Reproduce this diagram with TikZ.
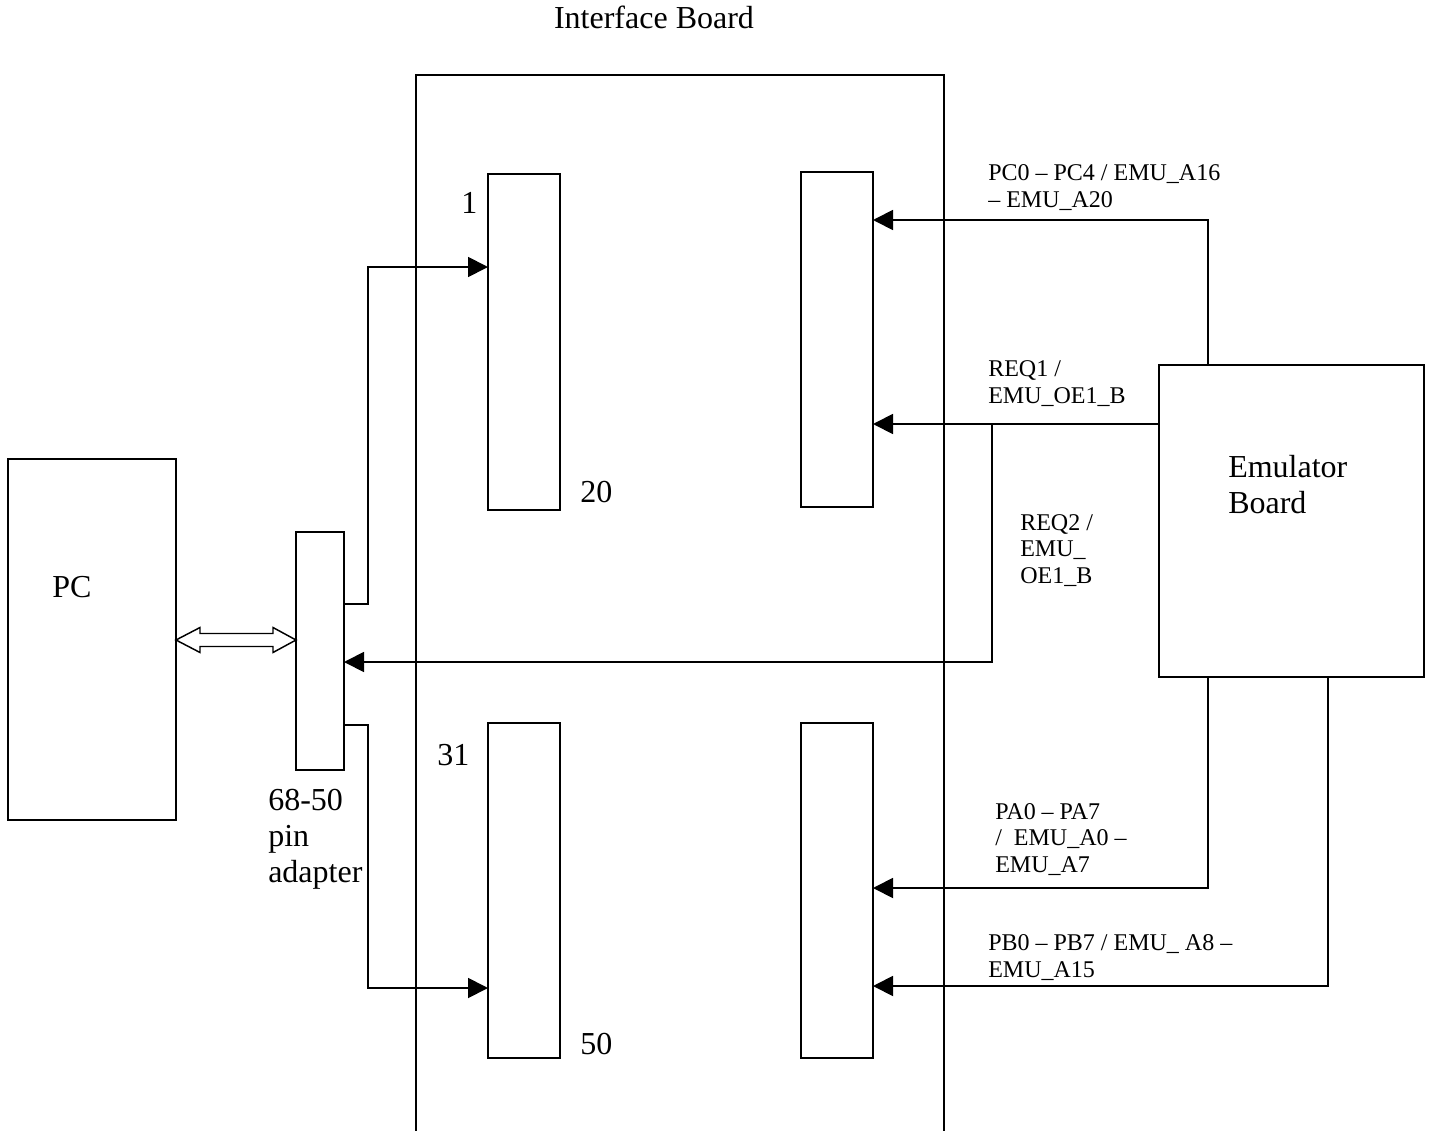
\documentclass[tikz,border=0pt]{standalone}
\usepackage{fontspec}
\setmainfont{Liberation Serif}
\usetikzlibrary{arrows.meta,calc}
\begin{document}
\begin{tikzpicture}[x=0.75pt,y=-0.75pt,
  box/.style={draw,line width=1.4pt,inner sep=0pt,outer sep=0pt},
  conn/.style={line width=1.4pt},
  arr/.style={line width=1.4pt,-{Triangle[length=15pt,width=15pt]}},
  big/.style={font=\fontsize{24pt}{27pt}\selectfont,inner sep=0pt,align=left},
  small/.style={font=\fontsize{18pt}{19.8pt}\selectfont,inner sep=0pt,align=left}]
\useasboundingbox (0,0) rectangle (1429,1131);
% boxes
\node[box,minimum width=396pt,minimum height=798.75pt] (board) at (680,607.5) {};
\node[box,minimum width=54pt,minimum height=252pt] (c1) at (524,342) {};
\node[box,minimum width=54pt,minimum height=251.25pt] (c2) at (524,890.5) {};
\node[box,minimum width=54pt,minimum height=251.25pt] (c3) at (837,339.5) {};
\node[box,minimum width=54pt,minimum height=251.25pt] (c4) at (837,890.5) {};
\node[box,minimum width=126pt,minimum height=270.75pt] (pc) at (92,639.5) {};
\node[box,minimum width=36pt,minimum height=178.5pt] (adp) at (320,651) {};
\node[box,minimum width=198.75pt,minimum height=234pt] (emu) at (1291.5,521) {};
% texts (multi-line nodes: base = baseline of last line)
\node[big,anchor=base] (title) at (654,29) {Interface Board};
\node[big,anchor=base west] (pct) at (52,597) {PC};
\node[big,anchor=base west] (n1) at (461,213) {1};
\node[big,anchor=base west] (n20) at (580,502) {20};
\node[big,anchor=base west] (n31) at (437,765) {31};
\node[big,anchor=base west] (n50) at (580,1054) {50};
\node[big,anchor=base west] (emut) at (1228,513) {Emulator\\Board};
\node[big,anchor=base west] (adpt) at (268,882) {68-50\\pin\\adapter};
\node[small,anchor=base west] (lpc) at (988,207) {PC0 -- PC4 / EMU\_A16\\-- EMU\_A20};
\node[small,anchor=base west] (lr1) at (988,403) {REQ1 /\\EMU\_OE1\_B};
\node[small,anchor=base west] (lr2) at (1020,583) {REQ2 /\\EMU\_\\OE1\_B};
\node[small,anchor=base west] (lpa) at (995,872) {PA0 -- PA7\\/\ \ EMU\_A0 --\\EMU\_A7};
\node[small,anchor=base west] (lpb) at (988,977) {PB0 -- PB7 / EMU\_ A8 --\\EMU\_A15};
% level coordinates
\coordinate (y604) at (0,604);
\coordinate (y725) at (0,725);
\coordinate (y267) at (0,267);
\coordinate (y988) at (0,988);
\coordinate (y220) at (0,220);
\coordinate (y424) at (0,424);
\coordinate (y662) at (0,662);
\coordinate (y888) at (0,888);
\coordinate (y986) at (0,986);
\coordinate (xa) at (368,0);
\coordinate (xb) at (1208,0);
\coordinate (xc) at (1328,0);
\coordinate (xj) at (992,0);
\coordinate (j) at (xj |- y424);
% connectors
\draw[arr] (adp.east |- y604) -- (xa |- y604) -- (xa |- y267) -- (c1.west |- y267);
\draw[arr] (adp.east |- y725) -- (xa |- y725) -- (xa |- y988) -- (c2.west |- y988);
\draw[arr] (emu.north -| xb) -- (xb |- y220) -- (c3.east |- y220);
\draw[arr] (emu.west |- y424) -- (c3.east |- y424);
\draw[arr] (j) -- (xj |- y662) -- (adp.east |- y662);
\draw[arr] (emu.south -| xb) -- (xb |- y888) -- (c4.east |- y888);
\draw[arr] (emu.south -| xc) -- (xc |- y986) -- (c4.east |- y986);
% double hollow arrow
\coordinate (dl) at (pc.east |- 0,640);
\coordinate (dr) at (adp.west |- 0,640);
\draw[line width=1.1pt,line join=miter]
  (dl) -- ($(dl)+(24,-12.5)$) -- ($(dl)+(24,-6.5)$) -- ($(dr)+(-23,-6.5)$)
  -- ($(dr)+(-23,-12.5)$) -- (dr) -- ($(dr)+(-23,12.5)$) -- ($(dr)+(-23,6.5)$)
  -- ($(dl)+(24,6.5)$) -- ($(dl)+(24,12.5)$) -- cycle;
\end{tikzpicture}
\end{document}
